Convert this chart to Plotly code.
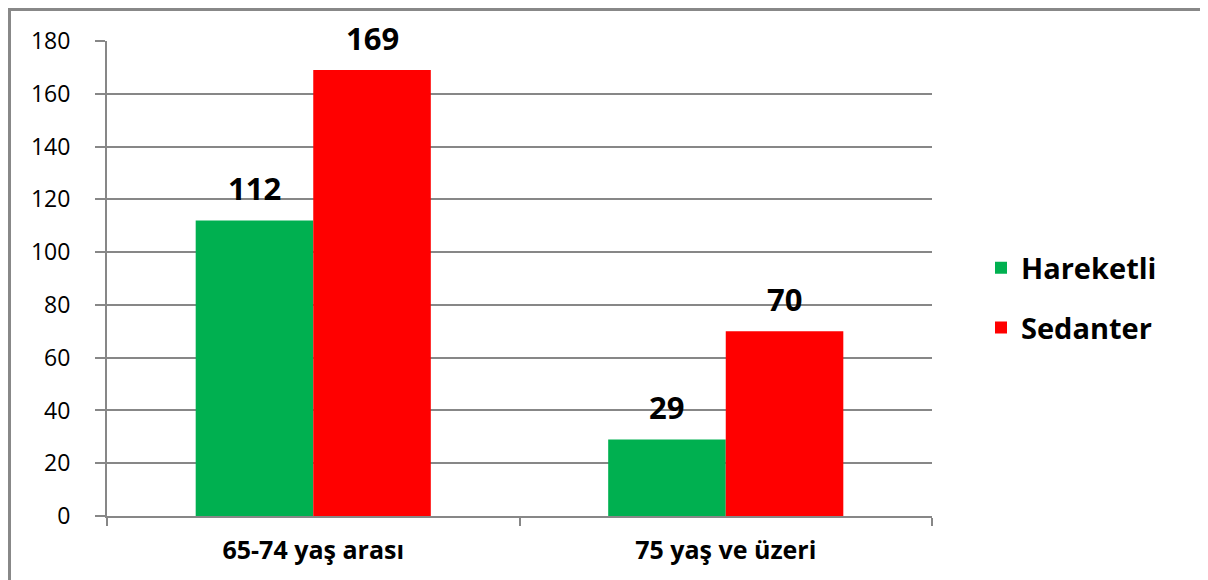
import plotly.graph_objects as go

categories = ["65-74 yaş arası", "75 yaş ve üzeri"]
series_names = ["Hareketli", "Sedanter"]
hareketli = [112, 29]
sedanter = [169, 70]
colors = ["#00B050", "#FF0000"]
y_ticks = [0, 20, 40, 60, 80, 100, 120, 140, 160, 180]

# the page adds an 8px body margin, so the figure is sized/positioned accordingly
OFF = 8
W, H = 1208 - OFF, 580 - OFF
L, T = 107 - OFF, 41 - OFF
plot_w = 825
plot_h = 475
R = W - L - plot_w
B = H - T - plot_h
BARGAP = 0.43

fig = go.Figure()
for name, vals, col in zip(series_names, [hareketli, sedanter], colors):
    fig.add_trace(go.Bar(
        name=name, x=categories, y=vals, marker=dict(color=col, line=dict(width=0)),
        legendgroup=name,
    ))

cat_w = plot_w / len(categories)
bar_w = cat_w * (1 - BARGAP) / 2
shifts = [-bar_w / 2, bar_w / 2]
for vals, sh in zip([hareketli, sedanter], shifts):
    for c, v in zip(categories, vals):
        fig.add_annotation(x=c, y=v, text=f"<b>{v}</b>", showarrow=False,
                           xshift=sh, yshift=9, yanchor="bottom",
                           font=dict(family="Open Sans", size=31, color="black"))

def px_x(p):
    return (p - OFF - L) / plot_w

def px_y(p):
    return (T + plot_h - (p - OFF)) / plot_h

# outer frame
fig.add_shape(type="rect", xref="paper", yref="paper",
              x0=px_x(9.5), x1=px_x(1205),
              y0=-0.3, y1=px_y(9.5),
              line=dict(color="#888888", width=3), fillcolor="rgba(0,0,0,0)", layer="below")

fig.update_layout(
    width=W, height=H,
    margin=dict(l=L, r=R, t=T, b=B),
    paper_bgcolor="white", plot_bgcolor="white",
    barmode="group", bargap=BARGAP, bargroupgap=0,
    font=dict(family="Open Sans", color="black"),
    showlegend=True,
    legend=dict(x=px_x(981), xanchor="left", y=px_y(298), yanchor="middle",
                font=dict(family="Open Sans", size=29, color="black", weight="bold"),
                tracegroupgap=19, bgcolor="rgba(0,0,0,0)"),
    yaxis=dict(range=[0, 180], tickvals=y_ticks, showgrid=True, gridcolor="#878787", gridwidth=2,
               showline=True, linecolor="#878787", linewidth=2, ticks="outside", ticklen=10,
               tickcolor="#878787", tickwidth=2, zeroline=False,
               tickfont=dict(family="Open Sans", size=23, color="black"), ticklabelstandoff=20),
    xaxis=dict(showline=True, linecolor="#878787", linewidth=2, ticks="outside", ticklen=8,
               tickcolor="#878787", tickwidth=2, tickson="boundaries", showgrid=False,
               tickfont=dict(family="Open Sans", size=25, color="black", weight="bold"),
               ticklabelstandoff=11),
)

fig.write_html("out.html")
